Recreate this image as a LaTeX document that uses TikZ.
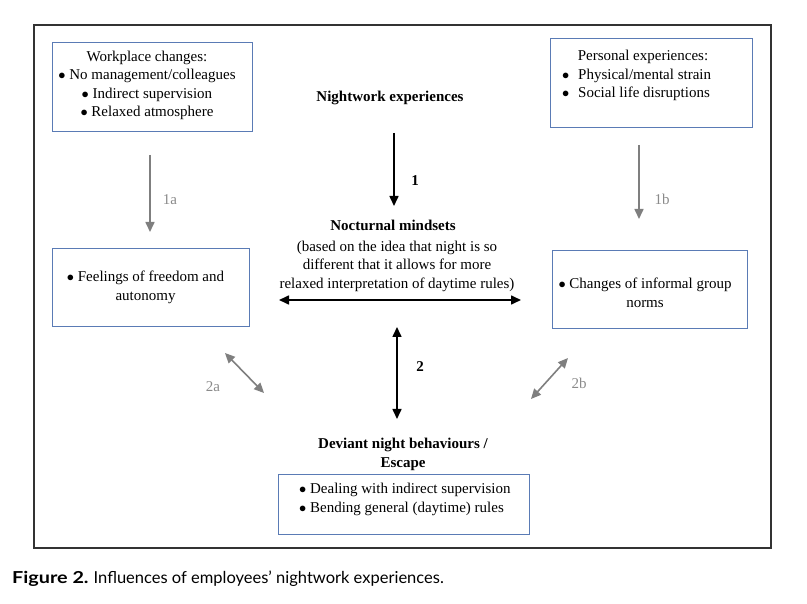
\documentclass[tikz,border=0pt]{standalone}
\usepackage{fontspec}
\setmainfont{Liberation Serif}
\newfontfamily\capfont{Lato}
\usetikzlibrary{arrows.meta}
\definecolor{boxblue}{HTML}{5A7BB5}
\definecolor{framegray}{HTML}{333333}
\definecolor{arrgray}{HTML}{7F7F7F}
\definecolor{labgray}{HTML}{8A8A8A}
\tikzset{
  every node/.style={inner sep=0pt, font=\fontsize{15}{18.5}\selectfont},
  bluebox/.style={draw=boxblue, line width=0.9pt, minimum width=#1, rectangle},
  txt/.style={align=center},
  bold/.style={font=\fontsize{15}{18.5}\selectfont\bfseries, align=center},
  blackarr/.style={line width=1.6pt, -{Triangle[length=10pt,width=9pt]}},
  blackdbl/.style={line width=1.6pt, {Triangle[length=10pt,width=9pt]}-{Triangle[length=10pt,width=9pt]}},
  grayarr/.style={draw=arrgray, line width=1.6pt, -{Triangle[length=10pt,width=9pt]}},
  graydbl/.style={draw=arrgray, line width=1.6pt, {Triangle[length=10pt,width=9pt]}-{Triangle[length=10pt,width=9pt]}},
  graylab/.style={text=labgray},
}
\begin{document}
\begin{tikzpicture}[x=1pt,y=-1pt]
\useasboundingbox (0,0) rectangle (807,604);
% outer frame
\draw[framegray, line width=1.3pt] (34,25) rectangle (771,548);

% boxes
\node[bluebox=200pt, minimum height=89pt] (wbox) at (152,86.5) {};
\node[bluebox=202pt, minimum height=89pt] (pbox) at (651,82.5) {};
\node[bluebox=197pt, minimum height=78pt] (fbox) at (150.5,287) {};
\node[bluebox=195pt, minimum height=78pt] (cbox) at (649.5,289) {};
\node[bluebox=251pt, minimum height=60pt] (dbox) at (403.5,504) {};

% box texts
\node[txt] (wtxt) at (147,85.5) {Workplace changes:\\ $\bullet$ No management/colleagues\\ $\bullet$ Indirect supervision\\ $\bullet$ Relaxed atmosphere};
\node[txt] (phead) at (643,57) {Personal experiences:};
\node[align=left, anchor=west] (ptxt) at (562,85) {\makebox[16pt][l]{$\bullet$}Physical/mental strain\\ \makebox[16pt][l]{$\bullet$}Social life disruptions};
\node[txt] (ftxt) at (145.5,287.5) {$\bullet$ Feelings of freedom and\\ autonomy};
\node[txt] (ctxt) at (645,293) {$\bullet$ Changes of informal group\\ norms};
\node[align=left, anchor=west] (dtxt) at (299,499.5) {$\bullet$ Dealing with indirect supervision\\ $\bullet$ Bending general (daytime) rules};

% central texts
\node[bold] (night) at (390,98) {Nightwork experiences};
\node[bold] (noct) at (393,225) {Nocturnal mindsets};
\node[txt] (based) at (397,266) {(based on the idea that night is so\\ different that it allows for more\\ relaxed interpretation of daytime rules)};
\node[bold] (dev) at (403,454.5) {Deviant night behaviours /\\ Escape};

% arrow end coordinates
\coordinate (a1s) at (394,133);
\coordinate (a1e) at (394,206);
\coordinate (hl) at (279,300);
\coordinate (hr) at (521,300);
\coordinate (a2s) at (397,327);
\coordinate (a2e) at (397,419);
\coordinate (a1as) at (150,155);
\coordinate (a1ae) at (150,232);
\coordinate (a1bs) at (639,145);
\coordinate (a1be) at (639,219);
\coordinate (a2as) at (225,353);
\coordinate (a2ae) at (264,393);
\coordinate (a2bs) at (568,358);
\coordinate (a2be) at (531,399);

\draw[blackarr] (a1s) -- (a1e);
\draw[blackdbl] (hl) -- (hr);
\draw[blackdbl] (a2s) -- (a2e);
\draw[grayarr] (a1as) -- (a1ae);
\draw[grayarr] (a1bs) -- (a1be);
\draw[graydbl] (a2as) -- (a2ae);
\draw[graydbl] (a2bs) -- (a2be);

% labels
\node[bold] (l1) at (415,181) {1};
\node[bold] (l2) at (420,367) {2};
\node[graylab] (l1a) at (170,200) {1a};
\node[graylab] (l1b) at (662,199) {1b};
\node[graylab] (l2a) at (213,387) {2a};
\node[graylab] (l2b) at (579,383) {2b};

% caption
\node[anchor=west, font=\capfont\fontsize{16.5}{18}\selectfont] (cap) at (12,579) {\scalebox{1.2}[1]{\textbf{Figure 2.}}\hspace{5pt}Influences of employees’ nightwork experiences.};
\end{tikzpicture}
\end{document}
